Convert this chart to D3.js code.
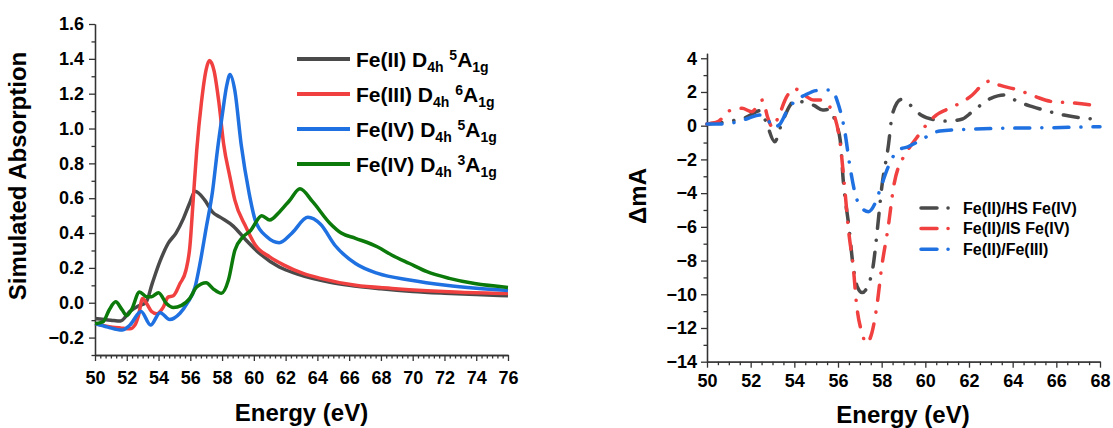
<!DOCTYPE html>
<html>
<head>
<meta charset="utf-8">
<script src="https://cdn.jsdelivr.net/npm/d3@7"></script>
<style>
  body { margin: 0; background: #fff; }
  svg text { font-family: "Liberation Sans", Arial, sans-serif; font-weight: bold; fill: #000; }
</style>
</head>
<body>
<script>
// ---- left panel data: simulated absorption ----
const feII5x = [50, 51, 51.6, 52.2, 52.7, 53.2, 53.6, 54.1, 54.6, 55.1, 55.55, 55.95, 56.3, 56.9, 57.4, 57.9, 58.7, 59.5, 60.4, 61.6, 62.7, 64.8, 66, 68, 70, 72, 74, 76];
const feII5y = [-0.09, -0.10, -0.105, -0.05, -0.02, 0.0, 0.11, 0.24, 0.34, 0.40, 0.48, 0.57, 0.64, 0.59, 0.52, 0.49, 0.44, 0.36, 0.28, 0.205, 0.166, 0.118, 0.10, 0.08, 0.065, 0.055, 0.047, 0.04];

const feIII6x = [50, 51.1, 51.6, 52.2, 52.5, 52.72, 53.0, 53.25, 53.56, 53.88, 54.3, 54.6, 54.93, 55.35, 55.72, 55.97, 56.18, 56.4, 56.7, 57.0, 57.2, 57.5, 57.8, 58.1, 58.5, 58.8, 59.5, 60.1, 61.0, 61.9, 63.1, 64.2, 66.4, 68.7, 70.9, 73, 76];
const feIII6y = [-0.12, -0.14, -0.145, -0.15, -0.13, -0.08, 0.025, -0.005, -0.05, -0.063, -0.025, 0.032, 0.04, 0.11, 0.185, 0.32, 0.587, 0.87, 1.15, 1.34, 1.39, 1.33, 1.15, 0.91, 0.72, 0.59, 0.435, 0.33, 0.263, 0.216, 0.168, 0.14, 0.10, 0.082, 0.069, 0.06, 0.053];

const feIV5x = [50, 50.8, 51.7, 52.2, 52.9, 53.5, 54.1, 54.7, 55.35, 55.8, 56.3, 56.6, 57.0, 57.4, 57.7, 58.0, 58.3, 58.5, 58.8, 59.2, 59.7, 60.1, 60.8, 61.6, 62.4, 63.4, 64.2, 65.1, 66.4, 67.8, 69.8, 72.1, 74, 76];
const feIV5y = [-0.12, -0.14, -0.157, -0.128, -0.05, -0.128, -0.057, -0.096, -0.06, -0.004, 0.09, 0.22, 0.43, 0.64, 0.87, 1.07, 1.25, 1.31, 1.22, 0.91, 0.63, 0.47, 0.38, 0.345, 0.40, 0.49, 0.45, 0.33, 0.225, 0.168, 0.13, 0.10, 0.083, 0.07];

const feIV3x = [50, 50.5, 50.9, 51.3, 51.7, 52.0, 52.3, 52.8, 53.25, 53.56, 54.0, 54.5, 54.93, 55.45, 55.97, 56.4, 57.0, 57.44, 57.96, 58.4, 58.8, 59.3, 59.8, 60.5, 61.0, 61.6, 62.25, 62.9, 63.7, 64.8, 65.5, 66.4, 67.8, 68.7, 69.8, 70.9, 72.3, 73.9, 76];
const feIV3y = [-0.12, -0.11, -0.04, 0.005, -0.04, -0.074, -0.04, 0.062, 0.035, 0.035, 0.058, -0.005, -0.028, -0.015, 0.025, 0.09, 0.115, 0.08, 0.054, 0.13, 0.30, 0.376, 0.415, 0.50, 0.475, 0.52, 0.587, 0.654, 0.58, 0.455, 0.40, 0.37, 0.32, 0.273, 0.225, 0.178, 0.14, 0.11, 0.088];

const leftNames = ["Fe(II)", "Fe(III)", "Fe(IV)", "Fe(IV)"];
const leftSpin = ["5", "6", "5", "3"];
const leftColors = ["#4a4a4a", "#f0403f", "#1f70e0", "#0b7a0b"];

// ---- right panel data: difference spectra ----
const hsX = [50, 51, 51.8, 52.43, 52.7, 53.1, 53.4, 53.8, 54.0, 54.4, 54.9, 55.3, 55.6, 55.9, 56.1, 56.25, 56.5, 56.7, 56.9, 57.1, 57.4, 57.6, 57.8, 58.0, 58.3, 58.5, 58.9, 59.3, 59.8, 60.5, 61.0, 61.7, 62.15, 63.0, 63.6, 64.25, 64.9, 65.7, 66.35, 67.0, 68.0];
const hsY = [0.1, 0.25, 0.5, 0.89, 0.24, -0.95, 0.04, 1.2, 1.5, 1.4, 1.2, 0.93, 0.97, 0.14, -0.85, -3.4, -6.0, -8.4, -9.6, -9.9, -9.4, -8.4, -6.2, -3.7, -1.25, 0.73, 1.56, 1.23, 0.63, 0.33, 0.27, 0.4, 0.83, 1.62, 1.82, 1.42, 1.13, 0.83, 0.63, 0.49, 0.37];

const isX = [50, 50.5, 51.05, 51.6, 52.05, 52.55, 52.77, 53.0, 53.3, 53.65, 54.0, 54.45, 54.9, 55.2, 55.55, 55.85, 56.1, 56.27, 56.5, 56.7, 56.85, 57.1, 57.3, 57.55, 57.78, 58.0, 58.3, 58.55, 59.0, 59.3, 59.7, 60.1, 60.5, 61.0, 61.7, 62.15, 62.6, 62.95, 63.4, 64.25, 65.05, 65.85, 66.7, 68.0];
const isY = [0.1, 0.24, 0.9, 1.03, 0.83, 1.52, 0.53, -0.1, 0.63, 1.72, 2.2, 1.82, 1.52, 1.52, 1.23, 0.53, -1.05, -3.2, -6.4, -8.4, -10.6, -12.3, -12.9, -12.3, -10.7, -8.4, -6.0, -3.6, -1.85, -1.25, -0.55, 0.13, 0.63, 0.97, 1.42, 1.82, 2.41, 2.65, 2.4, 2.12, 1.72, 1.42, 1.36, 1.16];

const f3X = [50, 50.7, 51.3, 51.9, 52.4, 52.8, 53.0, 53.3, 53.65, 54.0, 54.5, 55.0, 55.7, 56.0, 56.3, 56.55, 56.8, 57.1, 57.4, 57.7, 57.95, 58.3, 58.75, 59.2, 59.8, 60.2, 60.67, 61.9, 63.4, 65.7, 68.0];
const f3Y = [0.1, 0.1, 0.2, 0.44, 0.63, 0.34, -0.1, 0.04, 0.83, 1.43, 1.82, 2.08, 2.12, 1.33, -0.26, -2.44, -4.1, -4.9, -5.1, -4.6, -3.7, -2.44, -1.45, -1.25, -0.85, -0.55, -0.31, -0.22, -0.16, -0.12, -0.06];

const rightNames = ["Fe(II)/HS Fe(IV)", "Fe(II)/IS Fe(IV)", "Fe(II)/Fe(III)"];
const rightColors = ["#4a4a4a", "#f0403f", "#1f70e0"];

// ---- svg ----
const svg = d3.select("body").append("svg")
  .attr("width", 1113)
  .attr("height", 428);

const axisColor = "#333";

function styleAxis(g, fs) {
  g.select(".domain").attr("stroke", axisColor).attr("stroke-width", 1.3);
  g.selectAll(".tick line").attr("stroke", axisColor).attr("stroke-width", 1.3);
  g.selectAll(".tick text").style("font-size", fs + "px");
}

function zip(xs, ys) { return xs.map((x, i) => [x, ys[i]]); }

// ================= LEFT PANEL =================
const xL = d3.scaleLinear().domain([50, 76]).range([95, 508]);
const yL = d3.scaleLinear().domain([-0.3, 1.6]).range([355, 24]);

// minor ticks
const xLminor = d3.range(0, 79).map(i => 50 + i / 3).filter(v => Math.abs(v / 2 - Math.round(v / 2)) > 0.01);
svg.append("g").attr("transform", "translate(0,355)")
  .call(d3.axisBottom(xL).tickValues(xLminor).tickSize(3.5).tickSizeOuter(0).tickFormat(""))
  .call(g => styleAxis(g, 18));
svg.append("g").attr("transform", "translate(0,355)")
  .call(d3.axisBottom(xL).tickValues(d3.range(50, 77, 2)).tickSize(6).tickPadding(10.5).tickSizeOuter(0))
  .call(g => styleAxis(g, 18));

const yLminor = d3.range(-3, 16, 2).map(v => v / 10);
svg.append("g").attr("transform", "translate(95,0)")
  .call(d3.axisLeft(yL).tickValues(yLminor).tickSize(3.5).tickSizeOuter(0).tickFormat(""))
  .call(g => styleAxis(g, 18));
svg.append("g").attr("transform", "translate(95,0)")
  .call(d3.axisLeft(yL).tickValues(d3.range(-2, 17, 2).map(v => v / 10)).tickSize(6).tickPadding(5).tickSizeOuter(0).tickFormat(d3.format(".1f")))
  .call(g => styleAxis(g, 18));

const lineL = d3.line().x(d => xL(d[0])).y(d => yL(d[1])).curve(d3.curveMonotoneX);
const leftSeries = [zip(feII5x, feII5y), zip(feIII6x, feIII6y), zip(feIV5x, feIV5y), zip(feIV3x, feIV3y)];

leftSeries.forEach((s, i) => {
  svg.append("path")
    .attr("d", lineL(s))
    .attr("fill", "none")
    .attr("stroke", leftColors[i])
    .attr("stroke-width", 3.5)
    .attr("stroke-linejoin", "round");
});

// left legend
const legL = svg.append("g");
leftNames.forEach((name, i) => {
  const y = 59 + i * 35;
  legL.append("line")
    .attr("x1", 297).attr("x2", 350).attr("y1", y).attr("y2", y)
    .attr("stroke", leftColors[i]).attr("stroke-width", 4);
  const t = legL.append("text").attr("x", 356).attr("y", y + 7.5).style("font-size", "21px");
  t.append("tspan").text(name + " D");
  t.append("tspan").attr("dy", 5).style("font-size", "14px").text("4h");
  t.append("tspan").attr("dy", -5).text(" ");
  t.append("tspan").attr("dy", -7).style("font-size", "14px").text(leftSpin[i]);
  t.append("tspan").attr("dy", 7).text("A");
  t.append("tspan").attr("dy", 5).style("font-size", "14px").text("1g");
});

// left titles
svg.append("text")
  .attr("transform", "translate(26,176) rotate(-90)")
  .attr("text-anchor", "middle")
  .style("font-size", "24px")
  .text("Simulated Absorption");
svg.append("text")
  .attr("x", 301.5).attr("y", 421)
  .attr("text-anchor", "middle")
  .style("font-size", "24px")
  .text("Energy (eV)");

// ================= RIGHT PANEL =================
const xR = d3.scaleLinear().domain([50, 68]).range([707, 1100]);
const yR = d3.scaleLinear().domain([-14, 4.3]).range([361.7, 53.2]);

svg.append("g").attr("transform", "translate(0,361.7)")
  .call(d3.axisBottom(xR).tickValues(d3.range(50.5, 68, 0.5).filter(v => v % 2 !== 0)).tickSize(3.5).tickSizeOuter(0).tickFormat(""))
  .call(g => styleAxis(g, 18));
svg.append("g").attr("transform", "translate(0,361.7)")
  .call(d3.axisBottom(xR).tickValues(d3.range(50, 69, 2)).tickSize(6).tickPadding(6.5).tickSizeOuter(0))
  .call(g => styleAxis(g, 18));

svg.append("g").attr("transform", "translate(707,0)")
  .call(d3.axisLeft(yR).tickValues(d3.range(-13, 4, 2)).tickSize(3.5).tickSizeOuter(0).tickFormat(""))
  .call(g => styleAxis(g, 18));
svg.append("g").attr("transform", "translate(707,0)")
  .call(d3.axisLeft(yR).tickValues(d3.range(-14, 5, 2)).tickSize(6).tickPadding(4).tickSizeOuter(0))
  .call(g => styleAxis(g, 18));

const lineR = d3.line().x(d => xR(d[0])).y(d => yR(d[1])).curve(d3.curveMonotoneX);
const rightSeries = [zip(hsX, hsY), zip(isX, isY), zip(f3X, f3Y)];
const dashRight = "15,12,0.1,12";

rightSeries.forEach((s, i) => {
  svg.append("path")
    .attr("d", lineR(s))
    .attr("fill", "none")
    .attr("stroke", rightColors[i])
    .attr("stroke-width", 3.5)
    .attr("stroke-linecap", "round")
    .attr("stroke-linejoin", "round")
    .attr("stroke-dasharray", dashRight);
});

// right legend
const legR = svg.append("g");
rightNames.forEach((name, i) => {
  const y = 208 + i * 20.6;
  legR.append("line")
    .attr("x1", 921).attr("x2", 950).attr("y1", y).attr("y2", y)
    .attr("stroke", rightColors[i]).attr("stroke-width", 3.5)
    .attr("stroke-linecap", "round")
    .attr("stroke-dasharray", "16,11,0.1,20");
  legR.append("text")
    .attr("x", 963).attr("y", y + 5.7)
    .style("font-size", "16px")
    .text(name);
});

// right titles
svg.append("text")
  .attr("transform", "translate(646,196) rotate(-90)")
  .attr("text-anchor", "middle")
  .style("font-size", "24px")
  .text("ΔmA");
svg.append("text")
  .attr("x", 903).attr("y", 423)
  .attr("text-anchor", "middle")
  .style("font-size", "24px")
  .text("Energy (eV)");
</script>
</body>
</html>
